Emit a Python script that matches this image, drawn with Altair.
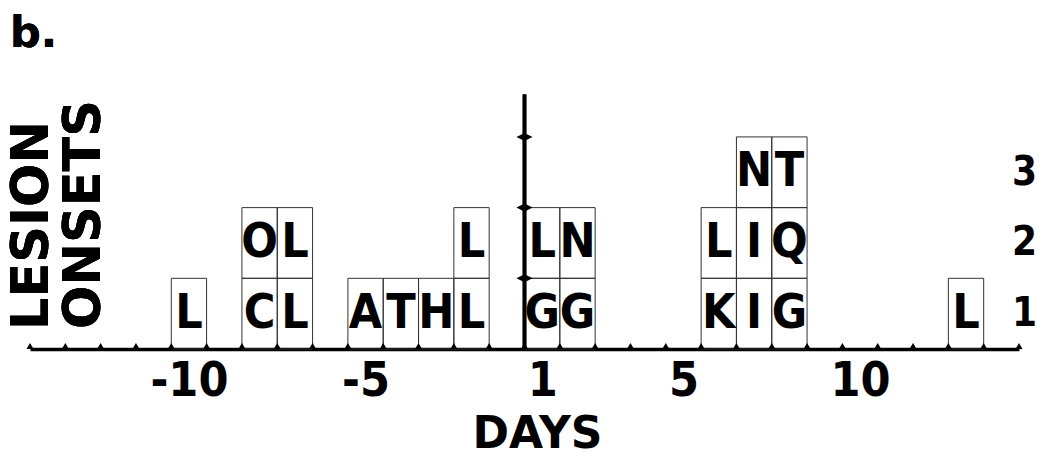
import altair as alt
import pandas as pd

# ---- data ----
cell_days = [-10, -8, -7, -8, -7, -5, -4, -3, -2, -2, 1, 2, 1, 2, 6, 7, 8, 6, 7, 8, 7, 8, 13]
cell_levels = [1, 1, 1, 2, 2, 1, 1, 1, 1, 2, 1, 1, 2, 2, 1, 1, 1, 2, 2, 2, 3, 3, 1]
cell_letters = ["L", "C", "L", "O", "L", "A", "T", "H", "L", "L", "G", "G", "L", "N",
                "K", "I", "G", "L", "I", "Q", "N", "T", "L"]
day_labels = [-10, -5, 1, 5, 10]
count_labels = [1, 2, 3]
line_markers = [1, 2, 3]
day_extent = [-14, 14]          # axis extent in day slots (there is no day 0)
tick_slots = list(range(day_extent[0], day_extent[1] + 1))

def slot_left(d):
    return d if d < 0 else d - 1

cells = pd.DataFrame({"day": cell_days, "level": cell_levels, "letter": cell_letters})
ticks_df = pd.DataFrame({"t": tick_slots})
markers_df = pd.DataFrame({"lvl": line_markers})

label_pos = [slot_left(d) + 0.5 for d in day_labels]
count_pos = [c - 0.5 for c in count_labels]

xs = alt.Scale(domain=day_extent, nice=False, zero=False)
ys = alt.Scale(domain=[0, 3.6], nice=False, zero=True)

BOLD = "DejaVu Sans"
COND = "DejaVu Sans Condensed, DejaVu Sans"
NARROW = "Liberation Sans Narrow, DejaVu Sans Condensed, DejaVu Sans"

x_axis = alt.Axis(
    values=label_pos,
    labelExpr="'' + (datum.value < 0 ? datum.value - 0.5 : datum.value + 0.5)",
    ticks=False, tickSize=0, grid=False,
    domain=True, domainWidth=3.5, domainColor="black",
    labelFont=COND, labelFontSize=48, labelFontWeight="bold",
    labelColor="black", labelPadding=8, labelFlush=False, labelOverlap=False, labelBound=False,
    title="DAYS", titleFont=BOLD, titleFontSize=44, titleFontWeight="bold",
    titleColor="black", titlePadding=7, titleX=507,
)
y_axis = alt.Axis(
    orient="right", values=count_pos,
    labelExpr="'' + (datum.value + 0.5)",
    ticks=False, tickSize=0, domain=False, grid=False,
    labelFont=COND, labelFontSize=40, labelFontWeight="bold", labelColor="black",
    labelAlign="center", labelBaseline="middle", labelPadding=5, title=None,
)

base = alt.Chart(cells).transform_calculate(
    left="datum.day < 0 ? datum.day : datum.day - 1",
).transform_calculate(
    right="datum.left + 1",
    center="datum.left + 0.5",
    bottom="datum.level - 1",
    mid="datum.level - 0.5",
)

rects = base.mark_rect(fill="white", fillOpacity=0, stroke="#333", strokeWidth=1).encode(
    x=alt.X("left:Q", scale=xs, axis=x_axis),
    x2="right:Q",
    y=alt.Y("bottom:Q", scale=ys, axis=y_axis),
    y2="level:Q",
)

letters = base.mark_text(font=NARROW, fontSize=48, fontWeight="bold", color="black",
                         baseline="middle", align="center").encode(
    x=alt.X("center:Q", scale=xs),
    y=alt.Y("mid:Q", scale=ys),
    text="letter:N",
)

tick_marks = alt.Chart(ticks_df).mark_point(shape="triangle-up", filled=True, size=50,
                                            color="black", opacity=1, yOffset=-3).encode(
    x=alt.X("t:Q", scale=xs),
    y=alt.YDatum(0, scale=ys),
)

vline = alt.Chart(markers_df).mark_rule(color="black", strokeWidth=3.5).encode(
    x=alt.XDatum(0, scale=xs),
    y=alt.YDatum(0, scale=ys),
    y2=alt.value(0),
)

vmarks = alt.Chart(markers_df).mark_point(shape="M -1 0 L 0 -0.5 L 1 0 L 0 0.5 Z", filled=True,
                                          size=260, color="black", opacity=1).encode(
    x=alt.XDatum(0, scale=xs),
    y=alt.Y("lvl:Q", scale=ys),
)

lesion = alt.Chart(markers_df).mark_text(text="LESION", font=BOLD, fontSize=51, fontWeight="bold",
                                         angle=270, align="center", baseline="middle",
                                         color="black").encode(
    x=alt.value(3), y=alt.value(131)
)
onsets = alt.Chart(markers_df).mark_text(text="ONSETS", font=BOLD, fontSize=51, fontWeight="bold",
                                         angle=270, align="center", baseline="middle",
                                         color="black").encode(
    x=alt.value(55), y=alt.value(120)
)
panel_tag = alt.Chart(markers_df).mark_text(text="b.", font=BOLD, fontSize=43, fontWeight="bold",
                                            align="left", baseline="alphabetic",
                                            color="black").encode(
    x=alt.value(-20), y=alt.value(-48)
)

chart = alt.layer(rects, letters, vline, vmarks, tick_marks, lesion, onsets, panel_tag).properties(
    width=989, height=254.5,
    autosize=alt.AutoSizeParams(type="none"),
    padding={"left": 22, "top": 86.5, "right": 18, "bottom": 107},
    background="white",
).configure_view(stroke=None)

chart.save("out.html", embed_options={"renderer": "svg", "actions": False})
